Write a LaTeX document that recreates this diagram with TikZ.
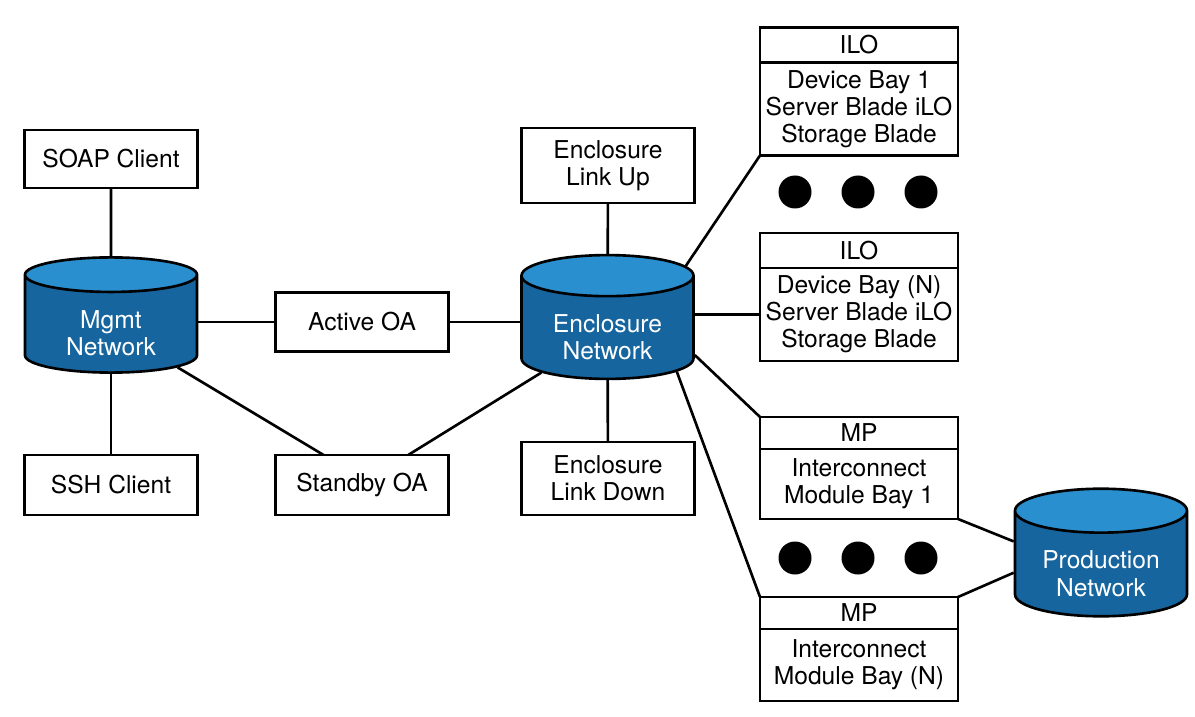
\documentclass[tikz,border=0pt]{standalone}
\usepackage{fontspec}
\setmainfont{TeX Gyre Heros}
\usetikzlibrary{positioning,shapes.geometric}

\definecolor{netbody}{RGB}{22,101,158}
\definecolor{nettop}{RGB}{42,143,206}

\begin{document}
\begin{tikzpicture}[
  x=0.2mm, y=-0.2mm,
  every node/.style={font=\fontsize{14}{15.4}\selectfont},
  box/.style={rectangle, draw, line width=1.5pt, outer sep=0pt, align=center,
    minimum width=34.6mm, inner sep=1pt},
  bayhead/.style={box, minimum width=39.6mm},
  net/.style={cylinder, shape border rotate=90, draw, line width=1.5pt,
    aspect=0.34, cylinder uses custom fill, cylinder body fill=netbody,
    cylinder end fill=nettop, text=white, align=center, text height=32pt,
    minimum width=34.4mm, minimum height=22mm, anchor=shape center},
  link/.style={line width=1.5pt},
  blob/.style={circle, fill, inner sep=0pt, minimum size=6.6mm},
]
  \useasboundingbox (0,0) rectangle (1195,717);

  % management side
  \node[box, minimum height=11.6mm] (soap)    at (111,159) {SOAP Client};
  \node[net]                        (mgmt)    at (111,315) {Mgmt\\Network};
  \node[box, minimum height=12mm]   (ssh)     at (111,485) {SSH Client};
  \node[box, minimum height=11.8mm] (active)  at (362,322) {Active OA};
  \node[box, minimum height=12mm]   (standby) at (362,485) {Standby OA};

  % enclosure
  \node[box, minimum height=15mm]   (linkup)   at (608,165.5) {Enclosure\\Link Up};
  \node[net]                        (encl)     at (607.5,317) {Enclosure\\Network};
  \node[box, minimum height=14.6mm] (linkdown) at (608,478.5) {Enclosure\\Link Down};

  % bays
  \node[bayhead, minimum height=7mm] (ilohead1) at (859,45) {ILO};
  \node[bayhead, minimum height=18.6mm, below=0pt of ilohead1] (ilobody1)
    {Device Bay 1\\Server Blade iLO\\Storage Blade};
  \node[bayhead, minimum height=7mm] (ilohead2) at (859,250.5) {ILO};
  \node[bayhead, minimum height=18.6mm, below=0pt of ilohead2] (ilobody2)
    {Device Bay (N)\\Server Blade iLO\\Storage Blade};
  \node[bayhead, minimum height=6.4mm] (mphead1) at (859,433) {MP};
  \node[bayhead, minimum height=14mm, below=0pt of mphead1] (mpbody1)
    {Interconnect\\Module Bay 1};
  \node[bayhead, minimum height=6.4mm] (mphead2) at (859,613) {MP};
  \node[bayhead, minimum height=14.4mm, below=0pt of mphead2] (mpbody2)
    {Interconnect\\Module Bay (N)};

  \node[net] (prod) at (1101,552.5) {Production\\Network};

  \foreach \k/\x in {1/795,2/858,3/921} {
    \node[blob] (dotup\k) at (\x,192) {};
    \node[blob] (dotdn\k) at (\x,558) {};
  }

  \draw[link] (soap) -- (mgmt);
  \draw[link] (mgmt) -- (ssh);
  \draw[link] (active.west) -- (active.west -| mgmt.east);
  \draw[link] (active.east) -- (active.east -| encl.west);
  \draw[link] (standby.142) -- (mgmt);
  \draw[link] (standby.33) -- (encl);
  \draw[link] (linkup) -- (encl);
  \draw[link] (encl) -- (linkdown);
  \draw[link] (encl.40) -- (ilobody1.south west);
  \draw[link] (ilobody2.west) -- (ilobody2.west -| encl.east);
  \draw[link] (encl.-15) -- (mphead1.north west);
  \draw[link] (encl.-30) -- (mphead2.north west);
  \draw[link] (mpbody1.south east) -- (prod.163);
  \draw[link] (mphead2.north east) -- (prod.183);
\end{tikzpicture}
\end{document}
